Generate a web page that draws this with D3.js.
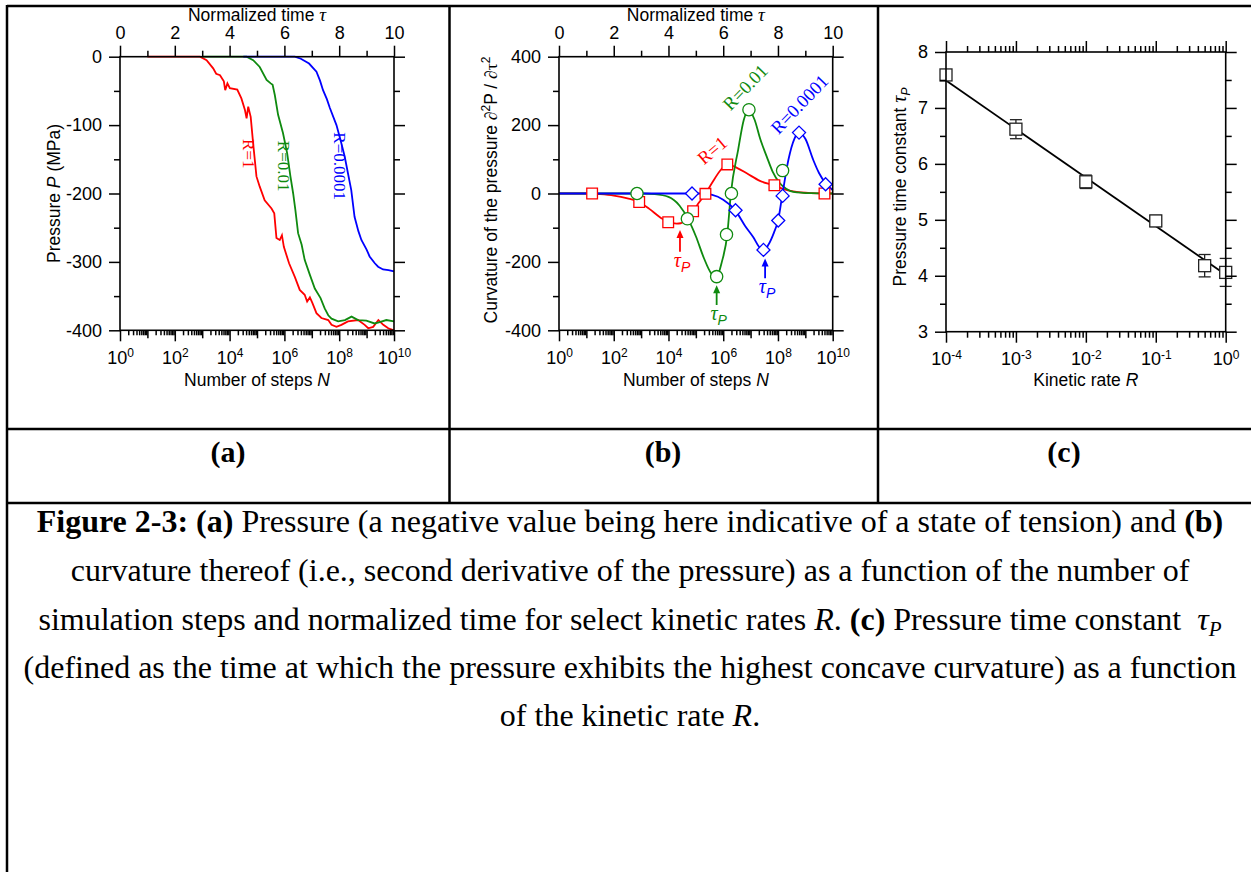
<!DOCTYPE html>
<html lang="en">
<head>
<meta charset="UTF-8">
<title>Figure 2-3</title>
<script src="https://d3js.org/d3.v7.min.js"></script>
<style>
  body { margin: 0; background: #fff; }
  svg { display: block; }
  .ax text { font: 18px "Liberation Sans", Arial, sans-serif; fill: #000; }
  .ax line { stroke: #000; stroke-width: 1.5px; }
  .title { font-family: "Liberation Sans", Arial, sans-serif; font-size: 17.5px; fill: #000; }
  .serif { font-family: "Liberation Serif", "Times New Roman", serif; }
  .cap { font-family: "Liberation Serif", "Times New Roman", serif; font-size: 32px; fill: #000; }
</style>
</head>
<body>
<svg width="1251" height="872"></svg>
<script>
// ---------- data ----------
// (a) pressure (MPa) vs normalized time tau
const tauA_R1 = [1.0, 2.92, 3.16, 3.40, 3.51, 3.65, 3.79, 3.84, 3.92, 4.01, 4.28, 4.43, 4.56, 4.62, 4.68, 4.77, 4.86, 4.98, 5.10, 5.28, 5.53, 5.63, 5.71, 5.83, 5.91, 5.98, 6.17, 6.38, 6.56, 6.74, 6.83, 6.93, 7.02, 7.17, 7.35, 7.60, 7.72, 7.90, 8.08, 8.32, 8.69, 8.93, 9.06, 9.24, 9.43, 9.61, 9.79, 10];
const presA_R1 = [0, 0, -5, -17, -25, -27, -36, -49, -39, -46, -48, -61, -78, -90, -73, -88, -127, -175, -190, -210, -222, -229, -265, -268, -261, -278, -302, -322, -341, -348, -358, -352, -360, -375, -382, -385, -392, -395, -392, -387, -385, -392, -397, -395, -385, -392, -397, -400];
const tauA_R001 = [3.0, 4.62, 4.86, 5.10, 5.35, 5.50, 5.57, 5.65, 5.77, 5.95, 6.10, 6.22, 6.32, 6.40, 6.50, 6.63, 6.74, 6.93, 7.11, 7.32, 7.47, 7.60, 7.72, 7.96, 8.21, 8.45, 8.69, 8.99, 9.29, 9.48, 9.72, 10];
const presA_R001 = [0, 0, -5, -15, -34, -39, -41, -56, -85, -112, -141, -175, -200, -224, -258, -275, -297, -319, -339, -353, -368, -378, -383, -387, -385, -380, -385, -386, -390, -388, -385, -387];
const tauA_R00001 = [4.5, 6.38, 6.6, 6.9, 7.17, 7.3, 7.41, 7.55, 7.66, 7.9, 8.05, 8.2, 8.44, 8.56, 8.7, 8.81, 9.0, 9.11, 9.3, 9.42, 9.6, 9.8, 10];
const presA_R00001 = [0, 0, -3, -10, -22, -35, -49, -62, -75, -100, -122, -146, -195, -234, -255, -268, -282, -292, -302, -307, -311, -312, -314];

// (b) curvature of the pressure: smooth fits and sampled points
const tauB_fit1 = [0, 1, 1.5, 2, 2.5, 2.93, 3.3, 3.7, 3.99, 4.3, 4.45, 4.65, 4.9, 5.1, 5.35, 5.6, 5.9, 6.15, 6.5, 6.86, 7.34, 7.83, 8.2, 8.56, 9.2, 9.7, 10];
const curvB_fit1 = [0, 0, -2, -6, -14, -25, -45, -70, -84, -88, -87, -75, -52, -28, -1, 32, 68, 85, 75, 59, 37, 24, 13, 6, 1, 0, 0];
const tauB_fit001 = [0, 3, 3.5, 4.0, 4.4, 4.72, 5.0, 5.3, 5.55, 5.76, 5.95, 6.15, 6.28, 6.55, 6.75, 6.92, 7.15, 7.35, 7.59, 7.8, 8.07, 8.3, 8.56, 9.2, 10];
const curvB_fit001 = [0, 0, -2, -10, -35, -75, -125, -190, -232, -243, -200, -118, 0, 130, 215, 244, 215, 160, 108, 65, 30, 14, 5, 1, 0];
const tauB_fit00001 = [0, 5.2, 5.6, 6.0, 6.43, 6.8, 7.1, 7.3, 7.47, 7.65, 7.85, 8.01, 8.16, 8.38, 8.6, 8.78, 9.0, 9.29, 9.5, 9.76, 10];
const curvB_fit00001 = [0, 0, -4, -18, -48, -95, -128, -155, -167, -150, -115, -77, -4, 98, 160, 178, 160, 98, 60, 28, 10];

const tauB_pts1 = [1.21, 2.93, 3.99, 4.90, 5.35, 6.15, 7.87, 9.70];
const curvB_pts1 = [0, -25, -84, -52, -1, 85, 24, 0];
const tauB_pts001 = [2.85, 4.69, 5.76, 6.12, 6.30, 6.94, 8.17];
const curvB_pts001 = [0, -74, -243, -120, 0, 245, 67];
const tauB_pts00001 = [4.86, 6.45, 7.47, 8.01, 8.17, 8.77, 9.74];
const curvB_pts00001 = [0, -49, -165, -79, -7, 178, 27];

// tau_P arrows in (b): tau position, arrow tip and tail (curvature units)
const arrowTau = [4.42, 5.76, 7.53];
const arrowTip = [-107, -268, -190];
const arrowTail = [-170, -326, -248];

// (c) pressure time constant vs kinetic rate
const rateR = [1e-4, 1e-3, 1e-2, 1e-1, 0.5, 1];
const tauP = [7.59, 6.62, 5.68, 4.98, 4.18, 4.06];
const tauPErr = [0.05, 0.17, 0.12, 0.10, 0.20, 0.25];
const fitR = [1e-4, 1];
const fitTau = [7.49, 4.02];

const seriesNames = ["R=1", "R=0.01", "R=0.0001"];
const colors = ["#ff0000", "#0f8a0f", "#0000ff"];

// ---------- helpers ----------
const svg = d3.select("svg");

function ticksLayer(g, axisGen, scale, values, size, fmt, pad) {
  const a = axisGen(scale).tickValues(values).tickSize(size).tickSizeOuter(0)
    .tickPadding(pad == null ? 5 : pad).tickFormat(fmt || (() => ""));
  const sel = g.append("g").attr("class", "ax").call(a);
  sel.select(".domain").remove();
  return sel;
}

function powLabels(sel) {
  sel.selectAll(".tick text").each(function (d) {
    const t = d3.select(this);
    const e = Math.round(Math.log10(d));
    t.text(null);
    t.append("tspan").text("10");
    t.append("tspan").attr("dy", "-0.55em").attr("font-size", "12px").text(e);
  });
}

function decades(lo, hi) {
  const major = [], minor = [];
  for (let e = lo; e <= hi; e++) {
    major.push(Math.pow(10, e));
    if (e < hi) for (let k = 2; k <= 9; k++) minor.push(k * Math.pow(10, e));
  }
  return { major, minor };
}

function frame(g, x, y) {
  const [x0, x1] = x.range(), [y0, y1] = y.range();
  g.append("rect").attr("x", x0).attr("y", y1).attr("width", x1 - x0).attr("height", y0 - y1)
    .attr("fill", "none").attr("stroke", "#000").attr("stroke-width", 1.6);
}

// left-side y axis + right mirror
function yAxes(g, y, x, major, minor) {
  const [x0, x1] = x.range();
  const L = g.append("g").attr("transform", `translate(${x0},0)`);
  ticksLayer(L, d3.axisLeft, y, major, 11, d => String(d), 7);
  ticksLayer(L, d3.axisLeft, y, minor, 6);
  const R = g.append("g").attr("transform", `translate(${x1},0)`);
  ticksLayer(R, d3.axisRight, y, major, 11);
  ticksLayer(R, d3.axisRight, y, minor, 6);
}

// bottom N axis (log) + top tau axis for panels a and b
function timeAxes(g, xN, xT, y) {
  const yb = y.range()[0], yt = y.range()[1];
  const B = g.append("g").attr("transform", `translate(0,${yb})`);
  const dec = decades(0, 10);
  const even = dec.major.filter((d, i) => i % 2 === 0);
  const odd = dec.major.filter((d, i) => i % 2 === 1);
  powLabels(ticksLayer(B, d3.axisBottom, xN, even, 11, d => d, 10));
  ticksLayer(B, d3.axisBottom, xN, odd, 8);
  ticksLayer(B, d3.axisBottom, xN, dec.minor, 5);
  const T = g.append("g").attr("transform", `translate(0,${yt})`);
  ticksLayer(T, d3.axisTop, xT, d3.range(0, 11, 2), 11, d => String(d), 7);
  ticksLayer(T, d3.axisTop, xT, d3.range(1, 10, 2), 6);
}

function topTitle(g, x) {
  const t = g.append("text").attr("class", "title").attr("text-anchor", "middle")
    .attr("x", d3.mean(x.range())).attr("y", 21);
  t.append("tspan").text("Normalized time  ");
  t.append("tspan").attr("class", "serif").attr("font-style", "italic").attr("font-size", 19).text("\u03c4");
}

function bottomTitle(g, x, pre, ital) {
  const t = g.append("text").attr("class", "title").attr("text-anchor", "middle")
    .attr("x", d3.mean(x.range())).attr("y", 386);
  t.append("tspan").text(pre);
  t.append("tspan").attr("font-style", "italic").text(ital);
}

// ---------- table rules ----------
const rules = [[7, 6, 1251, 6], [7, 429, 1251, 429], [7, 503, 1251, 503],
  [7, 5, 7, 872], [449.5, 6, 449.5, 503], [878, 6, 878, 503]];
svg.append("g").attr("stroke", "#000").attr("stroke-width", 2.5)
  .selectAll("line").data(rules).join("line")
  .attr("x1", d => d[0]).attr("y1", d => d[1]).attr("x2", d => d[2]).attr("y2", d => d[3]);

// ---------- panel (a) ----------
{
  const g = svg.append("g");
  const xT = d3.scaleLinear().domain([0, 10]).range([120, 394]);
  const xN = d3.scaleLog().domain([1, 1e10]).range([120, 394]);
  const y = d3.scaleLinear().domain([-400, 0]).range([330.3, 56.7]);

  const line = d3.line().x(d => xT(d[0])).y(d => y(d[1]));
  const sets = [[tauA_R1, presA_R1], [tauA_R001, presA_R001], [tauA_R00001, presA_R00001]];
  sets.forEach((s, i) => {
    g.append("path").datum(d3.zip(s[0], s[1])).attr("d", line)
      .attr("fill", "none").attr("stroke", colors[i]).attr("stroke-width", 1.8);
  });

  frame(g, xT, y);
  timeAxes(g, xN, xT, y);
  yAxes(g, y, xT, [0, -100, -200, -300, -400], [-50, -150, -250, -350]);

  topTitle(g, xT);
  bottomTitle(g, xT, "Number of steps ", "N");
  const yt = g.append("text").attr("class", "title").attr("text-anchor", "middle")
    .attr("transform", "translate(60,193.5) rotate(-90)");
  yt.append("tspan").text("Pressure ");
  yt.append("tspan").attr("font-style", "italic").text("P");
  yt.append("tspan").text(" (MPa)");

  // series labels along the curves
  const labA = [[4.5, -142], [5.78, -160], [7.8, -160]];
  labA.forEach((p, i) => {
    g.append("text").attr("class", "serif").attr("font-size", 17).attr("fill", colors[i])
      .attr("text-anchor", "middle")
      .attr("transform", `translate(${xT(p[0])},${y(p[1])}) rotate(90)`).text(seriesNames[i]);
  });
}

// ---------- panel (b) ----------
{
  const g = svg.append("g");
  const xT = d3.scaleLinear().domain([0, 10]).range([559, 832.7]);
  const xN = d3.scaleLog().domain([1, 1e10]).range([559, 832.7]);
  const y = d3.scaleLinear().domain([-400, 400]).range([330.3, 56.7]);

  const line = d3.line().x(d => xT(d[0])).y(d => y(d[1])).curve(d3.curveMonotoneX);
  const fits = [[tauB_fit1, curvB_fit1], [tauB_fit001, curvB_fit001], [tauB_fit00001, curvB_fit00001]];
  fits.forEach((s, i) => {
    g.append("path").datum(d3.zip(s[0], s[1])).attr("d", line)
      .attr("fill", "none").attr("stroke", colors[i]).attr("stroke-width", 1.8);
  });

  const pts = [[tauB_pts1, curvB_pts1], [tauB_pts001, curvB_pts001], [tauB_pts00001, curvB_pts00001]];
  const diamond = { draw(ctx, size) { const r = Math.sqrt(size / 2); ctx.moveTo(0, -r); ctx.lineTo(r, 0); ctx.lineTo(0, r); ctx.lineTo(-r, 0); ctx.closePath(); } };
  const shapes = [d3.symbolSquare, d3.symbolCircle, diamond];
  const sizes = [114, 118, 85];
  pts.forEach((s, i) => {
    g.append("g").selectAll("path").data(d3.zip(s[0], s[1])).join("path")
      .attr("transform", d => `translate(${xT(d[0])},${y(d[1])})`)
      .attr("d", d3.symbol(shapes[i], sizes[i]))
      .attr("fill", "#fff").attr("stroke", colors[i]).attr("stroke-width", 1.3);
  });

  // tau_P arrows
  arrowTau.forEach((t, i) => {
    const ax = xT(t), tip = y(arrowTip[i]), tail = y(arrowTail[i]);
    g.append("line").attr("x1", ax).attr("x2", ax).attr("y1", tail).attr("y2", tip + 4)
      .attr("stroke", colors[i]).attr("stroke-width", 1.8);
    g.append("path").attr("d", `M${ax},${tip}L${ax - 3.5},${tip + 8}L${ax + 3.5},${tip + 8}Z`)
      .attr("fill", colors[i]);
    const lab = g.append("text").attr("x", ax + 2).attr("y", tail + 15).attr("text-anchor", "middle")
      .attr("fill", colors[i]);
    lab.append("tspan").attr("class", "serif").attr("font-style", "italic").attr("font-size", 20).text("\u03c4");
    lab.append("tspan").attr("font-family", "Liberation Sans, Arial, sans-serif").attr("font-style", "italic")
      .attr("font-size", 14).attr("dy", 5).text("P");
  });

  frame(g, xT, y);
  timeAxes(g, xN, xT, y);
  yAxes(g, y, xT, [400, 200, 0, -200, -400], [300, 100, -100, -300]);

  topTitle(g, xT);
  bottomTitle(g, xT, "Number of steps ", "N");
  const yt = g.append("text").attr("class", "title").attr("text-anchor", "middle")
    .attr("transform", "translate(497,190) rotate(-90)");
  yt.append("tspan").text("Curvature of the pressure ");
  yt.append("tspan").attr("class", "serif").text("\u2202");
  yt.append("tspan").attr("font-size", 12).attr("dy", -7).text("2");
  yt.append("tspan").attr("dy", 7).text("P / ");
  yt.append("tspan").attr("class", "serif").text("\u2202\u03c4");
  yt.append("tspan").attr("font-size", 12).attr("dy", -7).text("2");

  const labB = [[5.75, 112, -40], [6.97, 298, -46], [8.95, 248, -46]];
  labB.forEach((p, i) => {
    g.append("text").attr("class", "serif").attr("font-size", 18.5).attr("fill", colors[i])
      .attr("text-anchor", "middle")
      .attr("transform", `translate(${xT(p[0])},${y(p[1])}) rotate(${p[2]})`).text(seriesNames[i]);
  });
}

// ---------- panel (c) ----------
{
  const g = svg.append("g");
  const x = d3.scaleLog().domain([1e-4, 1]).range([946, 1225.7]);
  const y = d3.scaleLinear().domain([3, 8]).range([331.7, 52]);

  g.append("path").datum(d3.zip(fitR, fitTau))
    .attr("d", d3.line().x(d => x(d[0])).y(d => y(d[1])))
    .attr("fill", "none").attr("stroke", "#000").attr("stroke-width", 1.8);

  const data = d3.zip(rateR, tauP, tauPErr);
  const eb = g.append("g").attr("stroke", "#222").attr("stroke-width", 1.3);
  data.forEach(d => {
    const cx = x(d[0]), lo = y(d[1] - d[2]), hi = y(d[1] + d[2]);
    eb.append("line").attr("x1", cx).attr("x2", cx).attr("y1", lo).attr("y2", hi);
    eb.append("line").attr("x1", cx - 6).attr("x2", cx + 6).attr("y1", lo).attr("y2", lo);
    eb.append("line").attr("x1", cx - 6).attr("x2", cx + 6).attr("y1", hi).attr("y2", hi);
  });
  g.append("g").selectAll("rect").data(data).join("rect")
    .attr("x", d => x(d[0]) - 6).attr("y", d => y(d[1]) - 6)
    .attr("width", 12).attr("height", 12)
    .attr("fill", "#fff").attr("stroke", "#222").attr("stroke-width", 1.3);

  frame(g, x, y);
  const dec = decades(-4, 0);
  const B = g.append("g").attr("transform", `translate(0,${y.range()[0]})`);
  powLabels(ticksLayer(B, d3.axisBottom, x, dec.major, 11, d => d, 10));
  ticksLayer(B, d3.axisBottom, x, dec.minor, 6);
  const T = g.append("g").attr("transform", `translate(0,${y.range()[1]})`);
  ticksLayer(T, d3.axisTop, x, dec.major, 11);
  ticksLayer(T, d3.axisTop, x, dec.minor, 6);
  yAxes(g, y, x, [3, 4, 5, 6, 7, 8], [3.5, 4.5, 5.5, 6.5, 7.5]);

  bottomTitle(g, x, "Kinetic rate ", "R");
  const yt = g.append("text").attr("class", "title").attr("text-anchor", "middle")
    .attr("transform", "translate(906,187) rotate(-90)");
  yt.append("tspan").text("Pressure time constant  ");
  yt.append("tspan").attr("class", "serif").attr("font-style", "italic").attr("font-size", 20).text("\u03c4");
  yt.append("tspan").attr("font-style", "italic").attr("font-size", 12).attr("dy", 4).text("P");
}

// ---------- panel letters ----------
const panelLetters = ["(a)", "(b)", "(c)"];
const letterX = [228, 663, 1064];
svg.append("g").selectAll("text").data(panelLetters).join("text")
  .attr("class", "cap").style("font-weight", "bold").style("font-size", "30px")
  .attr("text-anchor", "middle")
  .attr("x", (d, i) => letterX[i]).attr("y", 462).text(d => d);

// ---------- caption ----------
const captionLines = [
  [["b", "Figure 2-3:"], ["", " "], ["b", "(a)"], ["", " Pressure (a negative value being here indicative of a state of tension) and "], ["b", "(b)"]],
  [["", "curvature thereof (i.e., second derivative of the pressure) as a function of the number of"]],
  [["", "simulation steps and normalized time for select kinetic rates "], ["i", "R"], ["", ". "], ["b", "(c)"], ["", " Pressure time constant  "], ["i", "\u03c4"], ["sub", "P"]],
  [["", "(defined as the time at which the pressure exhibits the highest concave curvature) as a function"]],
  [["", "of the kinetic rate "], ["i", "R"], ["", "."]]
];
const capBase = [532, 581, 630, 678, 726];
captionLines.forEach((parts, i) => {
  const t = svg.append("text").attr("class", "cap").attr("text-anchor", "middle")
    .attr("x", 630).attr("y", capBase[i]).attr("xml:space", "preserve");
  parts.forEach(p => {
    const s = t.append("tspan").text(p[1]);
    if (p[0] === "b") s.style("font-weight", "bold");
    if (p[0] === "i") s.style("font-style", "italic");
    if (p[0] === "sub") s.style("font-style", "italic").style("font-size", "21px").attr("dy", 6);
  });
});
</script>
</body>
</html>
